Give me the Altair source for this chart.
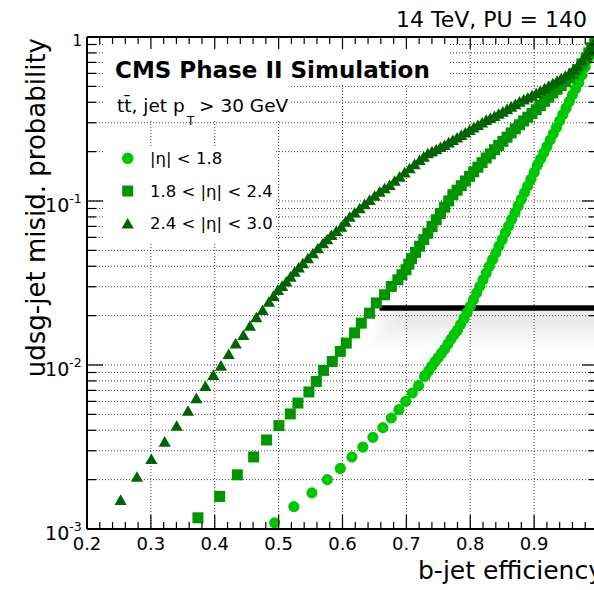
import altair as alt
import pandas as pd

# ---------------- data ----------------
eff_eta_lt18 = [0.4937, 0.5239, 0.5521, 0.5762, 0.5966, 0.6147, 0.6319, 0.6476, 0.6632, 0.6764,
                0.6883, 0.6988, 0.7092, 0.7191, 0.7285, 0.730, 0.735, 0.740, 0.745, 0.750,
                0.755, 0.760, 0.765, 0.770, 0.775, 0.780, 0.785, 0.790, 0.795, 0.800,
                0.805, 0.810, 0.815, 0.820, 0.825, 0.830, 0.835, 0.840, 0.845, 0.850,
                0.855, 0.860, 0.865, 0.870, 0.875, 0.880, 0.885, 0.890, 0.895, 0.900,
                0.905, 0.910, 0.915, 0.920, 0.925, 0.930, 0.935, 0.940, 0.945, 0.950,
                0.955, 0.960, 0.965, 0.970, 0.975, 0.980, 0.985, 0.990, 0.995, 1.0]
mis_eta_lt18 = [1.09e-3, 1.37e-3, 1.66e-3, 2.00e-3, 2.34e-3, 2.75e-3, 3.16e-3, 3.62e-3, 4.15e-3, 4.75e-3,
                5.34e-3, 6.00e-3, 6.75e-3, 7.48e-3, 8.52e-3, 8.65e-3, 9.23e-3, 9.84e-3, 1.05e-2, 1.11e-2,
                1.18e-2, 1.25e-2, 1.34e-2, 1.44e-2, 1.54e-2, 1.63e-2, 1.77e-2, 1.92e-2, 2.09e-2, 2.28e-2,
                2.50e-2, 2.75e-2, 3.02e-2, 3.31e-2, 3.64e-2, 4.00e-2, 4.40e-2, 4.83e-2, 5.31e-2, 5.82e-2,
                6.40e-2, 7.03e-2, 7.73e-2, 8.49e-2, 9.33e-2, 0.1025, 0.1125, 0.1236, 0.1358, 0.1493,
                0.165, 0.180, 0.196, 0.215, 0.235, 0.257, 0.281, 0.308, 0.337, 0.368,
                0.404, 0.444, 0.483, 0.527, 0.589, 0.659, 0.745, 0.870, 0.940, 1.0]

eff_eta_18_24 = [0.3737, 0.4077, 0.4354, 0.4609, 0.4812, 0.5005, 0.5183, 0.5302, 0.5474, 0.5590,
                 0.5704, 0.5840, 0.5966, 0.6059, 0.6189, 0.6294, 0.6424, 0.6529, 0.6659, 0.6764,
                 0.6867, 0.6931, 0.6994, 0.7038, 0.7081, 0.7144, 0.7207, 0.7272, 0.7336, 0.7402,
                 0.7468, 0.7533, 0.7598, 0.7663, 0.7728, 0.7794, 0.7859, 0.7924, 0.7989, 0.8054,
                 0.8119, 0.8185, 0.8250, 0.8315, 0.8380, 0.8445, 0.8510, 0.8576, 0.8641, 0.8706,
                 0.8771, 0.8836, 0.8901, 0.8967, 0.9033, 0.9098, 0.9163, 0.9228, 0.9293, 0.9359,
                 0.9424, 0.9489, 0.9554, 0.9617, 0.9679, 0.9747, 0.9815, 0.9857, 0.9898, 0.9950,
                 1.0]
mis_eta_18_24 = [1.17e-3, 1.58e-3, 2.14e-3, 2.75e-3, 3.49e-3, 4.27e-3, 5.03e-3, 5.86e-3, 6.85e-3, 7.94e-3,
                 9.27e-3, 1.05e-2, 1.21e-2, 1.36e-2, 1.57e-2, 1.80e-2, 2.07e-2, 2.39e-2, 2.68e-2, 3.01e-2,
                 3.31e-2, 3.55e-2, 3.81e-2, 4.12e-2, 4.45e-2, 4.86e-2, 5.30e-2, 5.81e-2, 6.36e-2, 6.99e-2,
                 7.69e-2, 8.40e-2, 9.17e-2, 0.1001, 0.1092, 0.1164, 0.1240, 0.1324, 0.1413, 0.1507,
                 0.1607, 0.1714, 0.1828, 0.1939, 0.2056, 0.2179, 0.2309, 0.2450, 0.2600, 0.2755,
                 0.2918, 0.3076, 0.3243, 0.3418, 0.3603, 0.3820, 0.4049, 0.4296, 0.4558, 0.4803,
                 0.5061, 0.5335, 0.5623, 0.5963, 0.6324, 0.6862, 0.7447, 0.8000, 0.8600, 0.9300,
                 1.0]

eff_eta_24_30 = [0.2527, 0.2782, 0.3008, 0.3216, 0.3404, 0.3581, 0.3712, 0.3853, 0.3978, 0.4097,
                 0.4218, 0.4327, 0.4448, 0.4551, 0.4651, 0.4750, 0.4848, 0.4919, 0.4989, 0.5055,
                 0.5120, 0.5185, 0.5250, 0.5315, 0.5380, 0.5458, 0.5537, 0.5615, 0.5693, 0.5759,
                 0.5825, 0.5903, 0.5981, 0.6046, 0.6111, 0.6190, 0.6268, 0.6346, 0.6424, 0.6503,
                 0.6581, 0.6659, 0.6737, 0.6816, 0.6894, 0.6972, 0.7050, 0.7129, 0.7207, 0.7272,
                 0.7336, 0.7402, 0.7468, 0.7533, 0.7598, 0.7663, 0.7728, 0.7794, 0.7859, 0.7924,
                 0.7989, 0.8054, 0.8119, 0.8185, 0.8250, 0.8315, 0.8380, 0.8445, 0.8510, 0.8576,
                 0.8641, 0.8706, 0.8771, 0.8836, 0.8901, 0.8967, 0.9033, 0.9098, 0.9163, 0.9228,
                 0.9293, 0.9359, 0.9424, 0.9489, 0.9554, 0.9617, 0.9679, 0.9747, 0.9815, 0.9857,
                 0.9898, 0.9950, 1.0]
mis_eta_24_30 = [1.51e-3, 2.09e-3, 2.68e-3, 3.42e-3, 4.28e-3, 5.28e-3, 6.30e-3, 7.48e-3, 8.73e-3, 9.95e-3,
                 1.17e-2, 1.36e-2, 1.53e-2, 1.74e-2, 1.96e-2, 2.17e-2, 2.44e-2, 2.65e-2, 2.88e-2, 3.05e-2,
                 3.24e-2, 3.47e-2, 3.72e-2, 3.95e-2, 4.19e-2, 4.49e-2, 4.82e-2, 5.17e-2, 5.54e-2, 5.87e-2,
                 6.23e-2, 6.60e-2, 7.00e-2, 7.51e-2, 8.05e-2, 8.54e-2, 9.06e-2, 9.61e-2, 0.1019, 0.1080,
                 0.1145, 0.1200, 0.1257, 0.1333, 0.1413, 0.1499, 0.1590, 0.1685, 0.1786, 0.1872,
                 0.1963, 0.2015, 0.2075, 0.2140, 0.2205, 0.2285, 0.2365, 0.2449, 0.2536, 0.2628,
                 0.2723, 0.2819, 0.2918, 0.3024, 0.3133, 0.3221, 0.3311, 0.3413, 0.3519, 0.3644,
                 0.3774, 0.3909, 0.4049, 0.4170, 0.4295, 0.4424, 0.4558, 0.4720, 0.4887, 0.5063,
                 0.5246, 0.5431, 0.5623, 0.5823, 0.6030, 0.6350, 0.6683, 0.7220, 0.7800, 0.8240,
                 0.8730, 0.9350, 1.0]

series_labels = ["|η| < 1.8", "1.8 < |η| < 2.4", "2.4 < |η| < 3.0"]
series_colors = ["#00c800", "#009600", "#006400"]

x_tick_values = [0.2, 0.3, 0.4, 0.5, 0.6, 0.7, 0.8, 0.9]
x_tick_labels = ["0.2", "0.3", "0.4", "0.5", "0.6", "0.7", "0.8", "0.9"]
y_decades = [1e-3, 1e-2, 1e-1]
y_decade_exps = ["-3", "-2", "-1"]

wp_misid = 0.0223      # black horizontal working-point line
wp_eff_start = 0.658

# ---------------- helpers ----------------
FONT = "DejaVu Sans"
W, H = 507, 492
xs = alt.Scale(domain=[0.2, 0.99374], nice=False, zero=False)
ys = alt.Scale(type="log", domain=[0.001, 1], nice=False)
one = pd.DataFrame({"a": [0]})


def X(f="x"):
    return alt.X(f"{f}:Q", scale=xs, axis=None)


def Y(f="y"):
    return alt.Y(f"{f}:Q", scale=ys, axis=None)


layers = []

# grid
y_grid = [k * 10 ** e for e in (-3, -2, -1) for k in range(2, 10)] + [1e-2, 1e-1]
x_grid = [0.3, 0.4, 0.5, 0.6, 0.7, 0.8, 0.9]
layers.append(alt.Chart(pd.DataFrame({"y": y_grid})).mark_rule(
    color="#000", strokeWidth=1, strokeDash=[1, 2], opacity=0.75).encode(
    y=Y(), x=alt.value(0), x2=alt.value(W)))
layers.append(alt.Chart(pd.DataFrame({"x": x_grid})).mark_rule(
    color="#000", strokeWidth=1, strokeDash=[1, 2], opacity=0.75).encode(
    x=X(), y=alt.value(0), y2=alt.value(H)))

# white text boxes (hide grid behind the annotations)
for (bx0, bx1, by0, by1) in [(16, 362, 2, 48), (16, 203, 48, 84), (16, 189, 110, 206)]:
    layers.append(alt.Chart(one).mark_rect(color="white").encode(
        x=alt.value(bx0), x2=alt.value(bx1), y=alt.value(by0), y2=alt.value(by1)))

# soft shadow under the working-point line
for i in range(7):
    layers.append(alt.Chart(pd.DataFrame({
        "x": [0.645 + 0.007 * i], "x2": [1.0],
        "y": [wp_misid * 10 ** (-0.01)], "y2": [wp_misid * 10 ** (-(0.24 - 0.025 * i))]})
    ).mark_rect(color="#000", opacity=0.013).encode(
        x=X(), x2="x2:Q", y=Y(), y2="y2:Q"))

# black working-point line
layers.append(alt.Chart(pd.DataFrame({"x": [wp_eff_start], "x2": [1.0], "y": [wp_misid]})).mark_rule(
    color="#000", strokeWidth=5.5).encode(x=X(), x2="x2:Q", y=Y()))

# data markers
for effs, mis, shape, size, col in [
    (eff_eta_lt18, mis_eta_lt18, "circle", 125, series_colors[0]),
    (eff_eta_18_24, mis_eta_18_24, "square", 121, series_colors[1]),
    (eff_eta_24_30, mis_eta_24_30, "triangle-up", 150, series_colors[2]),
]:
    layers.append(alt.Chart(pd.DataFrame({"x": effs, "y": mis})).mark_point(
        shape=shape, size=size, filled=True, opacity=1, color=col, clip=True).encode(
        x=X(), y=Y()))

# frame
layers.append(alt.Chart(one).mark_rule(color="#000", strokeWidth=2).encode(
    x=alt.value(0), y=alt.value(0), y2=alt.value(H)))
layers.append(alt.Chart(one).mark_rule(color="#000", strokeWidth=2).encode(
    x=alt.value(0), x2=alt.value(W + 4), y=alt.value(0)))
layers.append(alt.Chart(one).mark_rule(color="#000", strokeWidth=2).encode(
    x=alt.value(0), x2=alt.value(W + 4), y=alt.value(H)))

# x ticks (inward, bottom and top)
x_major = [0.2 + 0.1 * i for i in range(9)]
x_minor = [round(0.2 + 0.02 * i, 3) for i in range(41) if i % 5 != 0]
tick_style = dict(color="#000", strokeWidth=1.2)
layers.append(alt.Chart(pd.DataFrame({"x": x_major})).mark_rule(**tick_style).encode(
    x=X(), y=alt.value(H), y2=alt.value(H - 14)))
layers.append(alt.Chart(pd.DataFrame({"x": x_minor})).mark_rule(**tick_style).encode(
    x=X(), y=alt.value(H), y2=alt.value(H - 7)))
layers.append(alt.Chart(pd.DataFrame({"x": x_major})).mark_rule(**tick_style).encode(
    x=X(), y=alt.value(0), y2=alt.value(12)))
layers.append(alt.Chart(pd.DataFrame({"x": x_minor})).mark_rule(**tick_style).encode(
    x=X(), y=alt.value(0), y2=alt.value(7)))

# y ticks (inward, left and right)
y_minor = [k * 10 ** e for e in (-3, -2, -1) for k in range(2, 10)]
y_major = [1e-3, 1e-2, 1e-1, 1.0]
layers.append(alt.Chart(pd.DataFrame({"y": y_major})).mark_rule(**tick_style).encode(
    y=Y(), x=alt.value(0), x2=alt.value(16)))
layers.append(alt.Chart(pd.DataFrame({"y": y_minor})).mark_rule(**tick_style).encode(
    y=Y(), x=alt.value(0), x2=alt.value(9)))
layers.append(alt.Chart(pd.DataFrame({"y": y_major})).mark_rule(**tick_style).encode(
    y=Y(), x=alt.value(W + 4), x2=alt.value(W + 4 - 16)))
layers.append(alt.Chart(pd.DataFrame({"y": y_minor})).mark_rule(**tick_style).encode(
    y=Y(), x=alt.value(W + 4), x2=alt.value(W + 4 - 9)))

# x tick labels
layers.append(alt.Chart(pd.DataFrame({"x": x_tick_values, "t": x_tick_labels})).mark_text(
    font=FONT, fontSize=18, baseline="alphabetic", align="center", color="#000").encode(
    x=X(), y=alt.value(H + 21), text="t:N"))

# y tick labels: 10^k
layers.append(alt.Chart(pd.DataFrame({"y": y_decades})).mark_text(
    font=FONT, fontSize=19, baseline="alphabetic", align="right", dy=10.7, color="#000").encode(
    y=Y(), x=alt.value(-17.7), text=alt.value("10")))
layers.append(alt.Chart(pd.DataFrame({"y": y_decades, "t": y_decade_exps})).mark_text(
    font=FONT, fontSize=12.5, baseline="alphabetic", align="left", dy=1.5, color="#000").encode(
    y=Y(), x=alt.value(-17.7), text="t:N"))
layers.append(alt.Chart(pd.DataFrame({"y": [1.0]})).mark_text(
    font=FONT, fontSize=15, baseline="alphabetic", align="right", dy=9, color="#000").encode(
    y=Y(), x=alt.value(-5), text=alt.value("1")))

# axis titles
layers.append(alt.Chart(one).mark_text(
    font=FONT, fontSize=25, align="left", baseline="alphabetic", color="#000").encode(
    x=alt.value(331), y=alt.value(542), text=alt.value("b-jet efficiency")))
layers.append(alt.Chart(one).mark_text(
    font=FONT, fontSize=26, align="right", baseline="alphabetic", angle=270, color="#000").encode(
    x=alt.value(-42), y=alt.value(1), text=alt.value("udsg-jet misid. probability")))

# header texts
layers.append(alt.Chart(one).mark_text(
    font=FONT, fontSize=22, align="right", baseline="alphabetic", color="#000").encode(
    x=alt.value(500), y=alt.value(-10), text=alt.value("14 TeV, PU = 140")))
layers.append(alt.Chart(one).mark_text(
    font=FONT, fontSize=23, fontWeight="bold", align="left", baseline="alphabetic", color="#000").encode(
    x=alt.value(28), y=alt.value(41), text=alt.value("CMS Phase II Simulation")))
layers.append(alt.Chart(one).mark_text(
    font=FONT, fontSize=18.5, align="left", baseline="alphabetic", color="#000").encode(
    x=alt.value(30), y=alt.value(74.7), text=alt.value("tt\u0304, jet p")))
layers.append(alt.Chart(one).mark_text(
    font=FONT, fontSize=12, align="left", baseline="alphabetic", color="#000").encode(
    x=alt.value(100), y=alt.value(88), text=alt.value("T")))
layers.append(alt.Chart(one).mark_text(
    font=FONT, fontSize=18.5, align="left", baseline="alphabetic", color="#000").encode(
    x=alt.value(112), y=alt.value(74.7), text=alt.value("> 30 GeV")))

# legend
leg_y = [121.3, 154, 186.3]
for lab, col, shape, size, ly in zip(series_labels, series_colors,
                                     ["circle", "square", "triangle-up"], [135, 121, 150], leg_y):
    layers.append(alt.Chart(one).mark_point(
        shape=shape, size=size, filled=True, opacity=1, color=col).encode(
        x=alt.value(40.7), y=alt.value(ly)))
    layers.append(alt.Chart(one).mark_text(
        font=FONT, fontSize=16.5, align="left", baseline="middle", dy=1, color="#000").encode(
        x=alt.value(63), y=alt.value(ly), text=alt.value(lab)))

chart = alt.layer(*layers).properties(
    width=W, height=H,
    autosize=alt.AutoSizeParams(type="none"),
    padding={"left": 87, "top": 37, "right": 0, "bottom": 61},
    background="white",
).configure_view(stroke=None)

chart.save("out.html", embed_options={"renderer": "svg", "actions": False})
